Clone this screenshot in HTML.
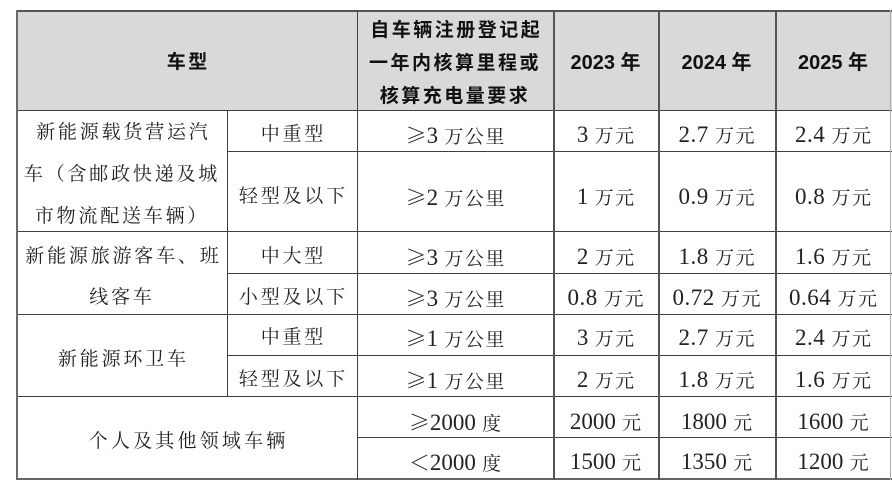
<!DOCTYPE html>
<html><head><meta charset="utf-8">
<style>
html,body{margin:0;padding:0;background:#fff;}
body{width:892px;height:483px;overflow:hidden;position:relative;}
.bg{position:absolute;left:17px;top:10px;width:875px;height:100px;background:#d9d9d9;}
.h{position:absolute;height:1px;background:#404040;}
.v{position:absolute;width:1px;background:#404040;}
.t{position:absolute;height:30px;line-height:30px;text-align:center;white-space:nowrap;
 font-family:"Liberation Serif","Noto Serif CJK SC",serif;font-size:19px;letter-spacing:2.8px;text-indent:2.8px;color:#222;}
.t.c{letter-spacing:1.5px;text-indent:1.5px;}
.t .n{font-size:23px;letter-spacing:0.5px;}
.t .m{font-size:23px;letter-spacing:0;}
.t .g{font-family:"Noto Serif CJK SC",serif;font-size:21px;letter-spacing:0;}
.hd{position:absolute;text-align:center;white-space:nowrap;
 font-family:"Liberation Sans","Noto Sans CJK SC",sans-serif;font-weight:700;font-size:19px;color:#111;letter-spacing:2.5px;text-indent:2.5px;}
.yr{font-size:20px;letter-spacing:0;text-indent:0;height:30px;line-height:30px;top:48px;}
</style></head><body>
<div class="bg"></div>

<!-- horizontal lines -->
<div class="h" style="left:17px;top:10px;width:875px;height:2px;background:#555"></div>
<div class="h" style="left:17px;top:110px;width:875px"></div>
<div class="h" style="left:227px;top:151px;width:665px"></div>
<div class="h" style="left:17px;top:231px;width:875px"></div>
<div class="h" style="left:227px;top:273px;width:665px"></div>
<div class="h" style="left:17px;top:314px;width:875px"></div>
<div class="h" style="left:227px;top:355px;width:665px"></div>
<div class="h" style="left:17px;top:396px;width:875px"></div>
<div class="h" style="left:357px;top:437px;width:535px"></div>
<div class="h" style="left:17px;top:478px;width:875px;height:2px;background:#666"></div>

<!-- vertical lines -->
<div class="v" style="left:16px;top:10px;height:470px;width:2px;background:#6a6a6a"></div>
<div class="v" style="left:227px;top:110px;height:286px"></div>
<div class="v" style="left:357px;top:10px;height:470px"></div>
<div class="v" style="left:553px;top:10px;height:470px;width:2px;background:#555"></div>
<div class="v" style="left:658px;top:10px;height:470px;width:2px;background:#555"></div>
<div class="v" style="left:775px;top:10px;height:470px;width:2px;background:#555"></div>
<div class="v" style="left:890px;top:10px;height:470px;background:#b0b0b0"></div>

<!-- header -->
<div class="hd" style="left:17px;width:340px;top:48px;height:30px;line-height:30px">车型</div>
<div class="hd" style="left:357px;width:196px;top:14px;line-height:33px">自车辆注册登记起<br>一年内核算里程或<br>核算充电量要求</div>
<div class="hd yr" style="left:553px;width:105px">2023 年</div>
<div class="hd yr" style="left:658px;width:117px">2024 年</div>
<div class="hd yr" style="left:775px;width:116px">2025 年</div>

<!-- column 1 -->
<div class="t" style="left:17px;width:210px;top:112px;height:126px;line-height:42px">新能源载货营运汽<br>车（含邮政快递及城<br>市物流配送车辆）</div>
<div class="t" style="left:17px;width:210px;top:236px;height:84px;line-height:41px">新能源旅游客车、班<br>线客车</div>
<div class="t" style="left:17px;width:210px;top:345px">新能源环卫车</div>
<div class="t" style="left:17px;width:340px;top:427px;letter-spacing:3.2px;text-indent:3.2px">个人及其他领域车辆</div>

<!-- column 2 -->
<div class="t" style="left:227px;width:130px;top:120px">中重型</div>
<div class="t" style="left:227px;width:130px;top:182px">轻型及以下</div>
<div class="t" style="left:227px;width:130px;top:242px">中大型</div>
<div class="t" style="left:227px;width:130px;top:283px">小型及以下</div>
<div class="t" style="left:227px;width:130px;top:323px">中重型</div>
<div class="t" style="left:227px;width:130px;top:365px">轻型及以下</div>

<!-- column 3 -->
<div class="t c" style="left:357px;width:196px;top:120px"><span class="g">≥</span><span class="m">3</span> 万公里</div>
<div class="t c" style="left:357px;width:196px;top:182px"><span class="g">≥</span><span class="m">2</span> 万公里</div>
<div class="t c" style="left:357px;width:196px;top:242px"><span class="g">≥</span><span class="m">3</span> 万公里</div>
<div class="t c" style="left:357px;width:196px;top:283px"><span class="g">≥</span><span class="m">3</span> 万公里</div>
<div class="t c" style="left:357px;width:196px;top:323px"><span class="g">≥</span><span class="m">1</span> 万公里</div>
<div class="t c" style="left:357px;width:196px;top:365px"><span class="g">≥</span><span class="m">1</span> 万公里</div>
<div class="t c" style="left:357px;width:196px;top:407px"><span class="g">≥</span><span class="m">2000</span> 度</div>
<div class="t c" style="left:357px;width:196px;top:447px"><span class="g">＜</span><span class="m">2000</span> 度</div>

<!-- 2023 -->
<div class="t c" style="left:553px;width:105px;top:120px"><span class="m">3</span> 万元</div>
<div class="t c" style="left:553px;width:105px;top:182px"><span class="m">1</span> 万元</div>
<div class="t c" style="left:553px;width:105px;top:242px"><span class="m">2</span> 万元</div>
<div class="t c" style="left:553px;width:105px;top:283px"><span class="n">0.8</span> 万元</div>
<div class="t c" style="left:553px;width:105px;top:323px"><span class="m">3</span> 万元</div>
<div class="t c" style="left:553px;width:105px;top:365px"><span class="m">2</span> 万元</div>
<div class="t c" style="left:553px;width:105px;top:407px"><span class="m">2000</span> 元</div>
<div class="t c" style="left:553px;width:105px;top:447px"><span class="m">1500</span> 元</div>

<!-- 2024 -->
<div class="t c" style="left:658px;width:117px;top:120px"><span class="n">2.7</span> 万元</div>
<div class="t c" style="left:658px;width:117px;top:182px"><span class="n">0.9</span> 万元</div>
<div class="t c" style="left:658px;width:117px;top:242px"><span class="n">1.8</span> 万元</div>
<div class="t c" style="left:658px;width:117px;top:283px"><span class="n">0.72</span> 万元</div>
<div class="t c" style="left:658px;width:117px;top:323px"><span class="n">2.7</span> 万元</div>
<div class="t c" style="left:658px;width:117px;top:365px"><span class="n">1.8</span> 万元</div>
<div class="t c" style="left:658px;width:117px;top:407px"><span class="m">1800</span> 元</div>
<div class="t c" style="left:658px;width:117px;top:447px"><span class="m">1350</span> 元</div>

<!-- 2025 -->
<div class="t c" style="left:775px;width:116px;top:120px"><span class="n">2.4</span> 万元</div>
<div class="t c" style="left:775px;width:116px;top:182px"><span class="n">0.8</span> 万元</div>
<div class="t c" style="left:775px;width:116px;top:242px"><span class="n">1.6</span> 万元</div>
<div class="t c" style="left:775px;width:116px;top:283px"><span class="n">0.64</span> 万元</div>
<div class="t c" style="left:775px;width:116px;top:323px"><span class="n">2.4</span> 万元</div>
<div class="t c" style="left:775px;width:116px;top:365px"><span class="n">1.6</span> 万元</div>
<div class="t c" style="left:775px;width:116px;top:407px"><span class="m">1600</span> 元</div>
<div class="t c" style="left:775px;width:116px;top:447px"><span class="m">1200</span> 元</div>
</body></html>
